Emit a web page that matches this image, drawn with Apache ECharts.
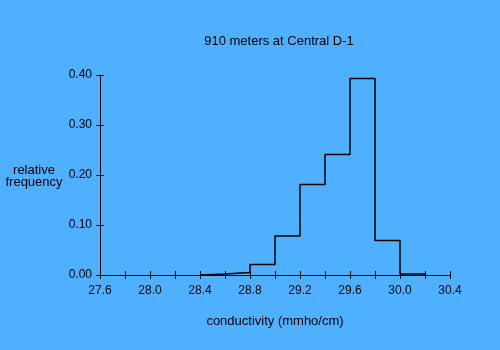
<!DOCTYPE html>
<html>
<head>
<meta charset="utf-8">
<script src="https://cdn.jsdelivr.net/npm/echarts@6/dist/echarts.min.js"></script>
<style>
  html, body { margin: 0; padding: 0; background: #4eb0ff; }
  #chart { width: 500px; height: 350px; }
</style>
</head>
<body>
<div id="chart"></div>
<script>
// Histogram bin edges (mmho/cm) and relative frequency of each bin
const binEdges = [28.4, 28.6, 28.8, 29.0, 29.2, 29.4, 29.6, 29.8, 30.0, 30.2];
const binFreq  = [0.002, 0.005, 0.021, 0.078, 0.181, 0.241, 0.393, 0.069, 0.002];
const yTickLabels = ['0.00', '0.10', '0.20', '0.30', '0.40'];
const xTickLabels = ['27.6', '28.0', '28.4', '28.8', '29.2', '29.6', '30.0', '30.4'];

// Staircase outline of the histogram
const outline = [[binEdges[0], 0]];
binFreq.forEach((f, i) => {
  outline.push([binEdges[i], f]);
  outline.push([binEdges[i + 1], f]);
});
outline.push([binEdges[binEdges.length - 1], 0]);

const font = 'Liberation Sans, Arial, sans-serif';
const black = '#000';

function xLabel(v) {
  const s = v.toFixed(1);
  return xTickLabels.indexOf(s) >= 0 ? s : '';
}
function yLabel(v) {
  const s = v.toFixed(2);
  return yTickLabels.indexOf(s) >= 0 ? s : '';
}

const grid = { left: 100, right: 50, top: 75, bottom: 75 };
const xBase = { type: 'value', min: 27.6, max: 30.4, interval: 0.2, splitLine: { show: false } };
const yBase = { type: 'value', min: 0, max: 0.4, interval: 0.1, splitLine: { show: false } };

const chart = echarts.init(document.getElementById('chart'), null, { renderer: 'canvas' });
chart.setOption({
  backgroundColor: '#4eb0ff',
  animation: false,
  title: {
    text: '910 meters at Central D-1',
    left: 274, top: 30, textAlign: 'center',
    textStyle: { fontFamily: font, fontSize: 13, fontWeight: 'normal', color: black }
  },
  graphic: [{
    type: 'text', x: 34, y: 164,
    style: { text: 'relative\nfrequency', font: '13px ' + font, fill: black, textAlign: 'center', lineHeight: 12 }
  }],
  grid: [grid, grid],
  xAxis: [
    Object.assign({}, xBase, {
      gridIndex: 0,
      name: 'conductivity (mmho/cm)', nameLocation: 'middle', nameGap: 40,
      nameTextStyle: { fontFamily: font, fontSize: 13, color: black },
      axisLine: { lineStyle: { color: black, width: 1 } },
      axisTick: { show: true, length: 4, lineStyle: { color: black } },
      axisLabel: { formatter: xLabel, margin: 10, color: black, fontFamily: font, fontSize: 12, showMinLabel: true, showMaxLabel: true }
    }),
    Object.assign({}, xBase, {
      gridIndex: 1,
      axisLine: { show: false },
      axisTick: { show: true, inside: true, length: 4, lineStyle: { color: black } },
      axisLabel: { show: false }
    })
  ],
  yAxis: [
    Object.assign({}, yBase, {
      gridIndex: 0,
      axisLine: { show: true, lineStyle: { color: black, width: 1 } },
      axisTick: { show: true, length: 4, lineStyle: { color: black } },
      axisLabel: { formatter: yLabel, margin: 8, color: black, fontFamily: font, fontSize: 12 }
    }),
    Object.assign({}, yBase, {
      gridIndex: 1,
      axisLine: { show: false },
      axisTick: { show: true, inside: true, length: 4, lineStyle: { color: black } },
      axisLabel: { show: false }
    })
  ],
  series: [{
    type: 'line',
    xAxisIndex: 0, yAxisIndex: 0,
    data: outline,
    showSymbol: false,
    symbol: 'none',
    lineStyle: { color: black, width: 1.5 },
    z: 5
  }]
});
</script>
</body>
</html>
